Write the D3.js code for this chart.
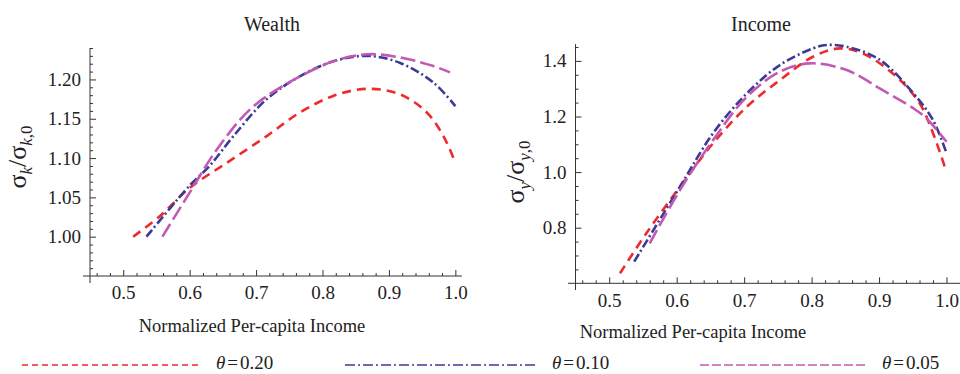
<!DOCTYPE html>
<html lang="en">
<head>
    <meta charset="UTF-8">
    <title>Wealth and Income</title>
    <style>
        body { margin: 0; background: #fff; }
        text { font-family: "Liberation Serif", "Times New Roman", serif; fill: #222; }
        .axis path, .axis line { stroke: #333; }
    </style>
</head>
<body>
    <div id="chart"></div>

    <script src="https://d3js.org/d3.v7.min.js"></script>
    <script>
        // values
        const thetas = ["0.20", "0.10", "0.05"];
        const colors = ["#ee2a2f", "#3b3b96", "#c25ab4"];
        const dashes = ["9,6", "9,3,2,3", "15,5"];
        const legendDashes = ["6,4", "10,3,2,3", "9,3"];
        const serif = "'Liberation Serif', 'Times New Roman', serif";

        // Wealth panel
        const wealthRedX = [0.515, 0.555, 0.60, 0.656, 0.716, 0.766, 0.816, 0.867, 0.917, 0.957, 0.982, 1.0];
        const wealthRedY = [1.000, 1.026, 1.062, 1.094, 1.128, 1.158, 1.179, 1.188, 1.181, 1.158, 1.128, 1.094];
        const wealthBlueX = [0.535, 0.60, 0.63, 0.666, 0.716, 0.766, 0.816, 0.867, 0.917, 0.967, 1.0];
        const wealthBlueY = [1.000, 1.065, 1.090, 1.128, 1.175, 1.204, 1.223, 1.230, 1.221, 1.196, 1.166];
        const wealthMagX = [0.559, 0.60, 0.641, 0.691, 0.741, 0.816, 0.867, 0.917, 0.967, 0.992];
        const wealthMagY = [1.000, 1.056, 1.111, 1.162, 1.192, 1.223, 1.232, 1.228, 1.217, 1.209];

        // Income panel
        const incomeRedX = [0.516, 0.555, 0.605, 0.654, 0.704, 0.753, 0.802, 0.842, 0.876, 0.926, 0.960, 0.980, 1.0];
        const incomeRedY = [0.636, 0.780, 0.948, 1.104, 1.235, 1.331, 1.415, 1.445, 1.427, 1.343, 1.248, 1.140, 1.000];
        const incomeBlueX = [0.537, 0.605, 0.654, 0.704, 0.753, 0.802, 0.822, 0.852, 0.901, 0.951, 0.980, 1.0];
        const incomeBlueY = [0.678, 0.948, 1.140, 1.283, 1.385, 1.445, 1.457, 1.451, 1.404, 1.283, 1.187, 1.068];
        const incomeMagX = [0.560, 0.605, 0.654, 0.704, 0.753, 0.797, 0.852, 0.901, 0.951, 0.970, 1.0];
        const incomeMagY = [0.744, 0.936, 1.115, 1.271, 1.361, 1.391, 1.367, 1.301, 1.229, 1.194, 1.109];

        const xMajor = [0.5, 0.6, 0.7, 0.8, 0.9, 1.0];
        const wealthYMajor = [1.00, 1.05, 1.10, 1.15, 1.20];
        const incomeYMajor = [0.8, 1.0, 1.2, 1.4];

        const width = 960, height = 374;
        const svg = d3.select("#chart").append("svg")
            .attr("width", width)
            .attr("height", height);

        const zip = (xs, ys) => xs.map((x, i) => [x, ys[i]]);

        const panels = [
            {
                title: "Wealth", titleX: 272, sub: "k", labelX: 26, labelY: 157, xLabelX: 252, xLabelY: 332,
                xDomain: [0.45, 1.01], xRange: [90, 462], xLineStart: 83,
                yDomain: [0.95, 1.24], yRange: [276, 48], yLineEnd: 283,
                yMajor: wealthYMajor, yFmt: d3.format(".2f"), yMinorStep: 0.01,
                series: [zip(wealthRedX, wealthRedY), zip(wealthBlueX, wealthBlueY), zip(wealthMagX, wealthMagY)]
            },
            {
                title: "Income", titleX: 761, sub: "y", labelX: 524, labelY: 172, xLabelX: 693, xLabelY: 338,
                xDomain: [0.45, 1.02], xRange: [575.5, 960], xLineStart: 568,
                yDomain: [0.6, 1.46], yRange: [283.3, 44.2], yLineEnd: 290,
                yMajor: incomeYMajor, yFmt: d3.format(".1f"), yMinorStep: 0.05,
                series: [zip(incomeRedX, incomeRedY), zip(incomeBlueX, incomeBlueY), zip(incomeMagX, incomeMagY)]
            }
        ];

        panels.forEach(p => {
            const x = d3.scaleLinear().domain(p.xDomain).range(p.xRange);
            const y = d3.scaleLinear().domain(p.yDomain).range(p.yRange);
            const x0 = p.xRange[0], y0 = p.yRange[0];

            const xMinor = d3.range(0.46, 1.0001, 0.02).filter(v => !xMajor.some(m => Math.abs(m - v) < 1e-6));
            const yMinor = d3.range(p.yDomain[0] + p.yMinorStep, p.yDomain[1], p.yMinorStep)
                .filter(v => !p.yMajor.some(m => Math.abs(m - v) < 1e-6));

            // minor ticks
            svg.append("g").attr("class", "axis")
                .attr("transform", `translate(0,${y0})`)
                .call(d3.axisBottom(x).tickValues(xMinor).tickSize(-3).tickFormat(""))
                .call(g => g.select(".domain").remove());
            svg.append("g").attr("class", "axis")
                .attr("transform", `translate(${x0},0)`)
                .call(d3.axisLeft(y).tickValues(yMinor).tickSize(-3).tickFormat(""))
                .call(g => g.select(".domain").remove());

            // major ticks
            svg.append("g").attr("class", "axis")
                .attr("transform", `translate(0,${y0})`)
                .attr("font-family", serif)
                .call(d3.axisBottom(x).tickValues(xMajor).tickSize(-6).tickPadding(10).tickFormat(d3.format(".1f")))
                .attr("font-family", serif)
                .call(g => g.select(".domain").remove())
                .call(g => g.selectAll("text").attr("font-size", 19).attr("font-family", serif).attr("dy", "0.71em"));
            svg.append("g").attr("class", "axis")
                .attr("transform", `translate(${x0},0)`)
                .call(d3.axisLeft(y).tickValues(p.yMajor).tickSize(-6).tickPadding(9).tickFormat(p.yFmt))
                .attr("font-family", serif)
                .call(g => g.select(".domain").remove())
                .call(g => g.selectAll("text").attr("font-size", 19).attr("font-family", serif));

            // axis lines
            svg.append("line")
                .attr("x1", p.xLineStart).attr("x2", p.xRange[1])
                .attr("y1", y0).attr("y2", y0)
                .attr("stroke", "#333");
            svg.append("line")
                .attr("x1", x0).attr("x2", x0)
                .attr("y1", p.yRange[1]).attr("y2", p.yLineEnd)
                .attr("stroke", "#333");

            // curves
            const line = d3.line()
                .x(d => x(d[0]))
                .y(d => y(d[1]))
                .curve(d3.curveCatmullRom.alpha(0.5));

            p.series.forEach((s, i) => {
                svg.append("path")
                    .datum(s)
                    .attr("d", line)
                    .attr("fill", "none")
                    .attr("stroke", colors[i])
                    .attr("stroke-width", 2.6)
                    .attr("stroke-dasharray", dashes[i]);
            });

            // titles
            svg.append("text")
                .attr("x", p.titleX).attr("y", 31)
                .attr("text-anchor", "middle")
                .attr("font-size", 20)
                .text(p.title);

            svg.append("text")
                .attr("x", p.xLabelX).attr("y", p.xLabelY)
                .attr("text-anchor", "middle")
                .attr("font-size", 18.5)
                .text("Normalized Per-capita Income");

            const yl = svg.append("text")
                .attr("transform", `translate(${p.labelX},${p.labelY}) rotate(-90)`)
                .attr("text-anchor", "middle")
                .attr("font-size", 26);
            yl.append("tspan").text("σ");
            yl.append("tspan").attr("font-size", 17).attr("font-style", "italic").attr("dy", 6).text(p.sub);
            yl.append("tspan").attr("dy", -6).text("/σ");
            yl.append("tspan").attr("font-size", 17).attr("dy", 6)
                .append("tspan").attr("font-style", "italic").text(p.sub)
                .select(function() { return this.parentNode; })
                .append("tspan").text(",0");
        });

        // legend
        const legendX = [22, 345, 700];
        const legendEnd = [202, 538, 868];
        thetas.forEach((t, i) => {
            svg.append("line")
                .attr("x1", legendX[i]).attr("x2", legendEnd[i])
                .attr("y1", 365).attr("y2", 365)
                .attr("stroke", colors[i])
                .attr("stroke-width", 1.3)
                .attr("stroke-dasharray", legendDashes[i]);
            const lt = svg.append("text")
                .attr("x", legendEnd[i] + 14).attr("y", 369)
                .attr("font-size", 19);
            lt.append("tspan").attr("font-style", "italic").text("θ");
            lt.append("tspan").text("=").attr("dx", 2);
            lt.append("tspan").text(t).attr("dx", 2);
        });
    </script>
</body>
</html>
